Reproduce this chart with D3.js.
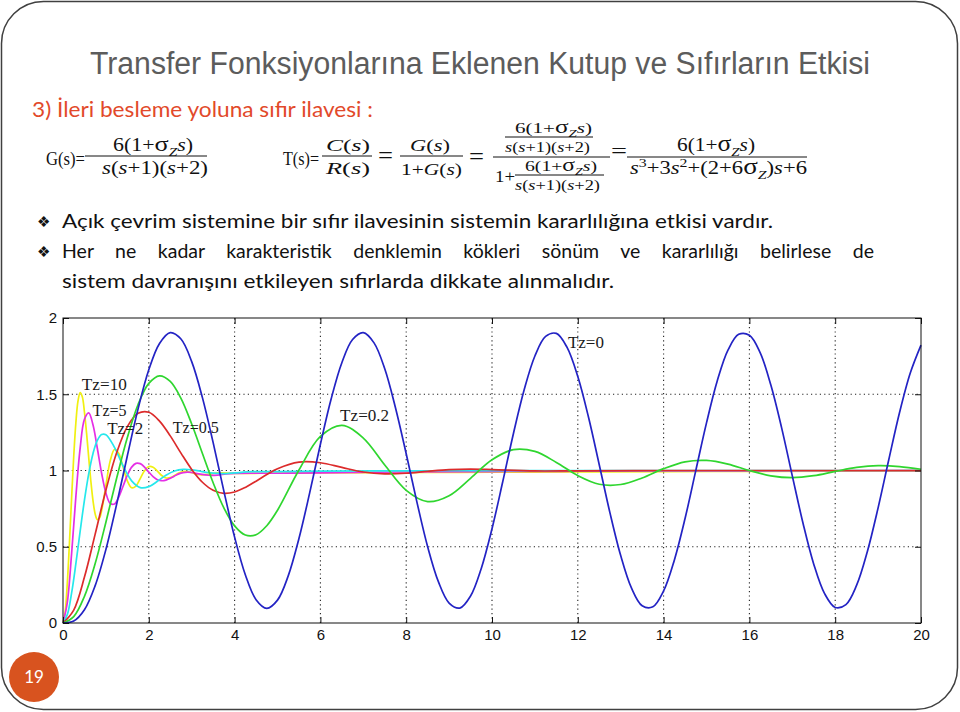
<!DOCTYPE html>
<html>
<head>
<meta charset="utf-8">
<script src="https://cdn.jsdelivr.net/npm/d3@7"></script>
<style>
  body { margin: 0; background: #fff; }
  svg { display: block; }
</style>
</head>
<body>
<svg id="slide" width="960" height="712"></svg>
<script>
// -------- data: [time, output] -------------------------------

var tz0 = [[0,0],[0.25,0.013],[0.5,0.087],[0.75,0.245],[1,0.482],[1.25,0.778],[1.5,1.097],[1.75,1.404],
  [2,1.660],[2.25,1.833],[2.5,1.904],[2.75,1.862],[3,1.714],[3.25,1.478],[3.5,1.183],[3.75,0.865],
  [4,0.563],[4.25,0.316],[4.5,0.153],[4.75,0.096],[5,0.150],[5.25,0.309],[5.5,0.554],[5.75,0.853],
  [6,1.172],[6.25,1.469],[6.5,1.707],[6.75,1.859],[7,1.904],[7.25,1.837],[7.5,1.667],[7.75,1.412],
  [8,1.110],[8.25,0.793],[8.5,0.500],[8.75,0.271],[9,0.131],[9.25,0.098],[9.5,0.177],[9.75,0.358],
  [10,0.618],[10.25,0.926],[10.5,1.243],[10.75,1.529],[11,1.751],[11.25,1.879],[11.5,1.899],[11.75,1.807],
  [12,1.616],[12.25,1.349],[12.5,1.038],[12.75,0.722],[13,0.442],[13.25,0.230],[13.5,0.113],[13.75,0.106],
  [14,0.210],[14.25,0.412],[14.5,0.685],[14.75,0.999],[15,1.312],[15.25,1.587],[15.5,1.789],[15.75,1.893],
  [16,1.887],[16.25,1.773],[16.5,1.560],[16.75,1.281],[17,0.965],[17.25,0.654],[17.5,0.386],[17.75,0.194],
  [18,0.102],[18.25,0.121],[18.5,0.248],[18.75,0.469],[19,0.755],[19.25,1.072],[19.5,1.380],[19.75,1.639],
  [20,1.822]];

var tz02 = [[0,0],[0.25,0.042],[0.5,0.175],[0.75,0.390],[1,0.661],[1.25,0.949],[1.5,1.216],[1.75,1.433],
  [2,1.571],[2.25,1.621],[2.5,1.584],[2.75,1.473],[3,1.305],[3.25,1.112],[3.5,0.920],[3.75,0.755],
  [4,0.637],[4.25,0.577],[4.5,0.579],[4.75,0.638],[5,0.739],[5.5,1.003],[6,1.223],[6.5,1.296],
  [7,1.213],[7.5,1.036],[8,0.870],[8.5,0.796],[9,0.835],[9.5,0.949],[10,1.070],[10.5,1.137],
  [11,1.125],[11.5,1.053],[12,0.967],[12.5,0.910],[13,0.908],[13.5,0.951],[14,1.012],[14.5,1.057],
  [15,1.066],[15.5,1.042],[16,1.000],[16.5,0.965],[17,0.953],[17.5,0.966],[18,0.994],[18.5,1.020],
  [19,1.032],[19.5,1.026],[20,1.008]];

var tz05 = [[0,0],[0.25,0.085],[0.5,0.301],[0.75,0.583],[1,0.871],[1.25,1.116],[1.5,1.288],[1.75,1.375],
  [2,1.382],[2.25,1.324],[2.5,1.227],[2.75,1.114],[3,1.007],[3.25,0.923],[3.5,0.870],[3.75,0.850],
  [4,0.859],[4.25,0.889],[4.5,0.930],[4.75,0.974],[5,1.012],[5.5,1.055],[6,1.051],[6.5,1.020],
  [7,0.990],[7.5,0.978],[8,0.982],[8.5,0.995],[9,1.006],[9.5,1.009],[10,1.006],[11,0.997],[12,0.998],
  [14,1.000],[16,1.000],[18,1.000],[20,1.000]];

var tz2 = [[0,0],[0.1,0.055],[0.2,0.196],[0.3,0.389],[0.4,0.602],[0.5,0.806],[0.6,0.980],[0.7,1.112],
  [0.8,1.197],[0.9,1.236],[1.0,1.235],[1.2,1.152],[1.4,1.030],[1.6,0.932],[1.8,0.888],[2.0,0.894],
  [2.2,0.929],[2.4,0.969],[2.6,0.997],[2.8,1.008],[3.0,1.005],[3.2,0.995],[3.4,0.986],[3.6,0.981],
  [3.8,0.980],[4.0,0.984],[4.4,0.992],[5,0.993],[6,0.996],[8,0.998],[10,0.999],[14,1.000],[20,1.000]];

var tz5 = [[0,0],[0.1,0.134],[0.2,0.453],[0.3,0.829],[0.4,1.147],[0.5,1.336],[0.6,1.378],[0.7,1.298],
  [0.8,1.146],[0.9,0.982],[1.0,0.853],[1.1,0.784],[1.2,0.780],[1.3,0.826],[1.4,0.897],[1.5,0.969],
  [1.6,1.022],[1.7,1.047],[1.8,1.045],[1.9,1.022],[2.0,0.990],[2.1,0.960],[2.2,0.940],[2.3,0.933],
  [2.4,0.937],[2.5,0.949],[2.6,0.964],[2.7,0.978],[2.8,0.986],[2.9,0.989],[3.0,0.987],[3.2,0.976],
  [3.4,0.969],[3.6,0.970],[3.8,0.977],[4,0.981],[5,0.982],[6,0.985],[8,0.990],[10,0.993],[12,0.995],
  [14,0.997],[16,0.998],[20,0.999]];

var tz10 = [[0,0],[0.05,0.071],[0.1,0.260],[0.15,0.524],[0.2,0.816],[0.25,1.092],[0.3,1.313],[0.35,1.456],
  [0.4,1.511],[0.45,1.483],[0.5,1.383],[0.55,1.243],[0.6,1.083],[0.65,0.928],[0.7,0.801],[0.75,0.715],
  [0.8,0.678],[0.85,0.688],[0.9,0.737],[1.0,0.902],[1.1,1.063],[1.2,1.138],[1.3,1.112],[1.4,1.023],
  [1.5,0.932],[1.6,0.887],[1.7,0.898],[1.8,0.947],[1.9,0.998],[2.0,1.026],[2.1,1.022],[2.2,0.996],
  [2.3,0.967],[2.4,0.951],[2.5,0.953],[2.6,0.967],[2.7,0.983],[2.8,0.993],[2.9,0.993],[3.0,0.986],
  [3.2,0.972],[3.4,0.975],[3.6,0.984],[4,0.981],[5,0.983],[6,0.984],[8,0.987],[10,0.989],[12,0.991],
  [14,0.993],[16,0.994],[18,0.995],[20,0.996]];

var seriesNames = ["Tz=0", "Tz=0.2", "Tz=0.5", "Tz=2", "Tz=5", "Tz=10"];
var xTickLabels = [0, 2, 4, 6, 8, 10, 12, 14, 16, 18, 20];
var yTickLabels = [0, 0.5, 1, 1.5, 2];

var svg = d3.select("#slide");

// -------- slide frame, title, texts ----------

svg.append("rect")
  .attr("x", 1.5).attr("y", 1.5)
  .attr("width", 956).attr("height", 708)
  .attr("rx", 42)
  .attr("fill", "#fff")
  .attr("stroke", "#404040")
  .attr("stroke-width", 1.5);

svg.append("text")
  .attr("x", 90).attr("y", 74)
  .attr("font-family", "Liberation Sans Narrow, Liberation Sans, Arial, sans-serif")
  .attr("font-size", 31)
  .attr("fill", "#5c5c5c")
  .attr("textLength", 780).attr("lengthAdjust", "spacingAndGlyphs")
  .text("Transfer Fonksiyonlarına Eklenen Kutup ve Sıfırların Etkisi");

svg.append("text")
  .attr("x", 32).attr("y", 117)
  .attr("font-family", "Lato, sans-serif")
  .attr("font-size", 21)
  .attr("fill", "#e2492a")
  .attr("textLength", 341).attr("lengthAdjust", "spacingAndGlyphs")
  .text("3) İleri besleme yoluna sıfır ilavesi :");

// math helper: parts = [text, kind]
function mathText(x, y, parts, size, width) {
  var t = svg.append("text")
    .attr("x", x).attr("y", y)
    .attr("font-family", "Liberation Serif, Times New Roman, serif")
    .attr("font-size", size)
    .attr("fill", "#111");
  var shift = 0;
  parts.forEach(function(p) {
    var ts = t.append("tspan").text(p[0]);
    var kind = p[1] || "";
    var dy = 0;
    if (kind === "sub") { ts.attr("font-size", size * 0.7).attr("font-style", "italic"); dy = size * 0.25; }
    else if (kind === "sup") { ts.attr("font-size", size * 0.7); dy = -size * 0.38; }
    else if (kind === "i") { ts.attr("font-style", "italic"); }
    else if (kind === "sig") { ts.attr("font-size", size * 1.2); }
    ts.attr("dy", dy - shift);
    shift = dy;
  });
  if (width) t.attr("textLength", width).attr("lengthAdjust", "spacingAndGlyphs");
  return t;
}

function bar(x1, x2, yy) {
  svg.append("line")
    .attr("x1", x1).attr("x2", x2).attr("y1", yy).attr("y2", yy)
    .attr("stroke", "#111").attr("stroke-width", 1);
}

var numZ = [["6(1+"], ["σ", "sig"], ["Z", "sub"], ["s", "i"], [")"]];
var denG = [["s", "i"], ["("], ["s", "i"], ["+1)("], ["s", "i"], ["+2)"]];
var denT = [["s", "i"], ["3", "sup"], ["+3"], ["s", "i"], ["2", "sup"], ["+(2+6"], ["σ", "sig"], ["Z", "sub"], [")"], ["s", "i"], ["+6"]];

// G(s)
mathText(46, 165, [["G(s)="]], 19, 39);
mathText(113, 151, numZ, 18, 80);
bar(85, 207, 156);
mathText(102, 174, denG, 18, 106);

// T(s)
mathText(283, 165, [["T(s)="]], 19, 36);
mathText(326, 151, [["C", "i"], ["("], ["s", "i"], [")"]], 17, 44);
bar(322, 372, 156);
mathText(326, 174, [["R", "i"], ["("], ["s", "i"], [")"]], 17, 44);
mathText(378, 163, [["="]], 24, 15);
mathText(410, 151, [["G", "i"], ["("], ["s", "i"], [")"]], 17, 40);
bar(400, 463, 156);
mathText(401, 175, [["1+"], ["G", "i"], ["("], ["s", "i"], [")"]], 17, 61);
mathText(469, 164, [["="]], 24, 15);

// nested fraction
bar(493, 610, 157);
mathText(515, 133, numZ, 15, 77);
bar(505, 593, 137);
mathText(505, 152, denG, 15, 85);
mathText(495, 182, [["1+"]], 16, 20);
mathText(525, 171, numZ, 15, 72);
bar(515, 604, 175);
mathText(515, 190, denG, 15, 85);
mathText(611, 158, [["="]], 22, 16);

// final form
mathText(677, 151, numZ, 19, 78);
bar(627, 807, 157);
mathText(630, 174, denT, 19, 177);

// bullets
var bodyFont = "Lato, sans-serif";
[228, 258].forEach(function(by) {
  svg.append("text")
    .attr("x", 37).attr("y", by - 1)
    .attr("font-family", "DejaVu Sans, sans-serif")
    .attr("font-size", 15)
    .attr("fill", "#111")
    .text("❖");
});

svg.append("text")
  .attr("x", 62).attr("y", 228)
  .attr("font-family", bodyFont).attr("font-size", 19.5).attr("fill", "#111")
  .attr("textLength", 711).attr("lengthAdjust", "spacingAndGlyphs")
  .text("Açık çevrim sistemine bir sıfır ilavesinin sistemin kararlılığına etkisi vardır.");

var line2 = "Her ne kadar karakteristik denklemin kökleri sönüm ve kararlılığı belirlese de";
var l2 = svg.append("text")
  .attr("x", 62).attr("y", 258)
  .attr("font-family", bodyFont).attr("font-size", 19.5).attr("fill", "#111")
  .text(line2);
var nat = l2.node().getComputedTextLength();
var gaps = line2.split(" ").length - 1;
l2.style("word-spacing", ((812 - nat) / gaps) + "px");

svg.append("text")
  .attr("x", 62).attr("y", 288)
  .attr("font-family", bodyFont).attr("font-size", 19.5).attr("fill", "#111")
  .attr("textLength", 552).attr("lengthAdjust", "spacingAndGlyphs")
  .text("sistem davranışını etkileyen sıfırlarda dikkate alınmalıdır.");

// page number
svg.append("circle").attr("cx", 34).attr("cy", 677).attr("r", 25).attr("fill", "#d8531f");
svg.append("text")
  .attr("x", 34).attr("y", 683)
  .attr("text-anchor", "middle")
  .attr("font-family", "Lato, sans-serif").attr("font-size", 17)
  .attr("fill", "#fff")
  .text("19");

// -------- step response plot ----------

var x = d3.scaleLinear().domain([0, 20]).range([63, 921]);
var y = d3.scaleLinear().domain([0, 2]).range([623, 318]);
var tickFont = "Liberation Sans Narrow, Liberation Sans, Arial, sans-serif";

var plot = svg.append("g");

// dotted grid
plot.append("g").selectAll("line")
  .data(xTickLabels.slice(1, -1))
  .join("line")
  .attr("x1", function(d) { return x(d); }).attr("x2", function(d) { return x(d); })
  .attr("y1", y(0)).attr("y2", y(2))
  .attr("stroke", "#222").attr("stroke-width", 1.1)
  .attr("stroke-dasharray", "1.2,3.2");

plot.append("g").selectAll("line")
  .data(yTickLabels.slice(1, -1))
  .join("line")
  .attr("x1", x(0)).attr("x2", x(20))
  .attr("y1", function(d) { return y(d); }).attr("y2", function(d) { return y(d); })
  .attr("stroke", "#222").attr("stroke-width", 1.1)
  .attr("stroke-dasharray", "1.2,3.2");

// curves
var line = d3.line()
  .x(function(d) { return x(d[0]); })
  .y(function(d) { return y(d[1]); })
  .curve(d3.curveCatmullRom.alpha(0.5));

var curves = [
  { data: tz10, color: "#f0f011" },
  { data: tz5, color: "#e52ee5" },
  { data: tz2, color: "#25e8ec" },
  { data: tz05, color: "#dc2b2b" },
  { data: tz02, color: "#2fd62f" },
  { data: tz0, color: "#2323c4" }
];

plot.append("g").selectAll("path")
  .data(curves)
  .join("path")
  .attr("d", function(d) { return line(d.data); })
  .attr("fill", "none")
  .attr("stroke", function(d) { return d.color; })
  .attr("stroke-width", 1.7)
  .attr("stroke-linejoin", "round");

// axes with inward ticks
function styleAxis(g) {
  g.select(".domain").remove();
  g.selectAll(".tick line").attr("stroke", "#111");
  g.attr("font-family", tickFont).attr("font-size", 15);
  g.selectAll(".tick text").attr("fill", "#111");
}

plot.append("g")
  .attr("transform", "translate(0," + y(0) + ")")
  .call(d3.axisBottom(x).tickValues(xTickLabels).tickSize(-6).tickPadding(6))
  .call(styleAxis);

plot.append("g")
  .attr("transform", "translate(0," + y(2) + ")")
  .call(d3.axisTop(x).tickValues(xTickLabels).tickSize(-6).tickFormat(""))
  .call(styleAxis);

plot.append("g")
  .attr("transform", "translate(" + x(0) + ",0)")
  .call(d3.axisLeft(y).tickValues(yTickLabels).tickSize(-6).tickPadding(6).tickFormat(d3.format("")))
  .call(styleAxis);

plot.append("g")
  .attr("transform", "translate(" + x(20) + ",0)")
  .call(d3.axisRight(y).tickValues(yTickLabels).tickSize(-6).tickFormat(""))
  .call(styleAxis);

plot.append("rect")
  .attr("x", x(0)).attr("y", y(2))
  .attr("width", x(20) - x(0)).attr("height", y(0) - y(2))
  .attr("fill", "none").attr("stroke", "#111").attr("stroke-width", 1);

// curve labels
var labelSpots = [
  { t: 11.77, v: 1.803, w: 36 },
  { t: 6.46, v: 1.327, w: 49 },
  { t: 2.56, v: 1.248, w: 46 },
  { t: 1.03, v: 1.240, w: 36 },
  { t: 0.69, v: 1.358, w: 34 },
  { t: 0.44, v: 1.528, w: 45 }
];

plot.append("g").selectAll("text")
  .data(seriesNames)
  .join("text")
  .attr("x", function(d, i) { return x(labelSpots[i].t); })
  .attr("y", function(d, i) { return y(labelSpots[i].v); })
  .attr("font-family", "Liberation Serif, Times New Roman, serif")
  .attr("font-size", 17)
  .attr("fill", "#1a1a1a")
  .attr("textLength", function(d, i) { return labelSpots[i].w; })
  .attr("lengthAdjust", "spacingAndGlyphs")
  .text(function(d) { return d; });
</script>
</body>
</html>
